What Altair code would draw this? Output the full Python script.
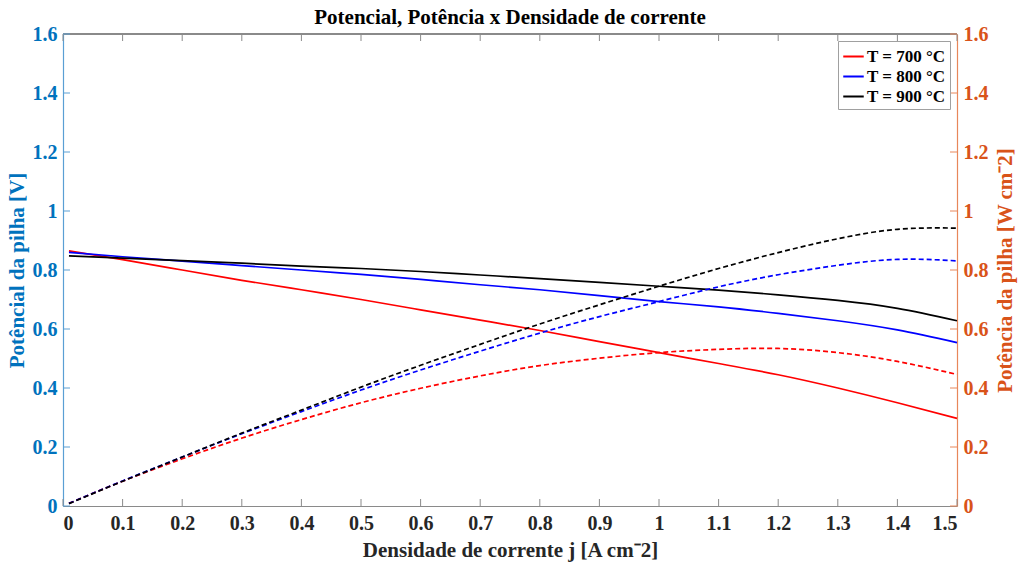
import altair as alt
import pandas as pd

# ---- data ----
j = [0.01, 0.1, 0.2, 0.3, 0.4, 0.5, 0.6, 0.7, 0.8, 0.9, 1.0, 1.1, 1.2, 1.3, 1.4, 1.5]

V700 = [0.865, 0.835, 0.800, 0.765, 0.733, 0.700, 0.665, 0.630, 0.595, 0.557, 0.520, 0.483, 0.445, 0.400, 0.350, 0.297]
V800 = [0.860, 0.845, 0.830, 0.815, 0.800, 0.785, 0.768, 0.750, 0.733, 0.713, 0.693, 0.675, 0.653, 0.628, 0.597, 0.554]
V900 = [0.848, 0.840, 0.832, 0.823, 0.813, 0.805, 0.795, 0.783, 0.771, 0.758, 0.745, 0.732, 0.716, 0.697, 0.670, 0.628]

P700 = [0.009, 0.084, 0.160, 0.230, 0.293, 0.350, 0.399, 0.441, 0.476, 0.501, 0.520, 0.531, 0.534, 0.520, 0.490, 0.446]
P800 = [0.009, 0.085, 0.166, 0.245, 0.320, 0.393, 0.461, 0.525, 0.586, 0.642, 0.693, 0.743, 0.784, 0.816, 0.836, 0.831]
P900 = [0.008, 0.084, 0.166, 0.247, 0.325, 0.403, 0.477, 0.548, 0.617, 0.682, 0.745, 0.805, 0.859, 0.906, 0.938, 0.942]

series = ["T = 700 °C", "T = 800 °C", "T = 900 °C"]
series_colors = ["#ff0000", "#0000ff", "#000000"]

x_ticks = [0, 0.1, 0.2, 0.3, 0.4, 0.5, 0.6, 0.7, 0.8, 0.9, 1, 1.1, 1.2, 1.3, 1.4, 1.5]
y_ticks = [0, 0.2, 0.4, 0.6, 0.8, 1, 1.2, 1.4, 1.6]

title_text = "Potencial, Potência x Densidade de corrente"
x_title = "Densidade de corrente j [A cm⁻2]"
yl_title = "Potêncial da pilha [V]"
yr_title = "Potência da pilha [W cm⁻2]"

# ---- tables ----
rows_v, rows_p = [], []
for name, vs, ps in zip(series, [V700, V800, V900], [P700, P800, P900]):
    for xi, v, p in zip(j, vs, ps):
        rows_v.append({"j": xi, "val": v, "T": name})
        rows_p.append({"j": xi, "val": p, "T": name})
df_v = pd.DataFrame(rows_v)
df_p = pd.DataFrame(rows_p)
df_xt = pd.DataFrame({"j": x_ticks})
df_yt = pd.DataFrame({"val": y_ticks})

W, H = 894, 472
FONT = "Liberation Serif"
BLUE, BLUE_L = "#0072BD", "#5a9fd4"
ORANGE, ORANGE_L = "#D95319", "#e8875a"
GRAY = "#8a8a8a"
LBL = 20
TTL = 21

x_axis = alt.Axis(values=x_ticks, format="~g", title=x_title, grid=False,
                  tickSize=0, domainColor=GRAY, domainWidth=1.2,
                  labelFont=FONT, labelFontSize=LBL, labelFontWeight="bold",
                  labelColor="#262626", labelPadding=7,
                  titleFont=FONT, titleFontSize=TTL, titleFontWeight="bold",
                  titleColor="#262626", titlePadding=6)
x_enc = alt.X("j:Q", scale=alt.Scale(domain=[0, 1.5], nice=False, zero=False), axis=x_axis)

yl_axis = alt.Axis(values=y_ticks, format="~g", title=yl_title, grid=False,
                   tickSize=0, domainColor=BLUE_L, domainWidth=1.2,
                   labelFont=FONT, labelFontSize=LBL, labelFontWeight="bold",
                   labelColor=BLUE, labelPadding=6,
                   titleFont=FONT, titleFontSize=TTL, titleFontWeight="bold",
                   titleColor=BLUE, titlePadding=5)
yr_axis = alt.Axis(values=y_ticks, format="~g", title=yr_title, grid=False, orient="right",
                   tickSize=0, domainColor=ORANGE_L, domainWidth=1.2,
                   labelFont=FONT, labelFontSize=LBL, labelFontWeight="bold",
                   labelColor=ORANGE, labelPadding=6,
                   titleFont=FONT, titleFontSize=TTL, titleFontWeight="bold",
                   titleColor=ORANGE, titlePadding=6, titleAngle=270,
                   titleBaseline="top")
yl_enc = alt.Y("val:Q", scale=alt.Scale(domain=[0, 1.6], nice=False), axis=yl_axis)
yr_enc = alt.Y("val:Q", scale=alt.Scale(domain=[0, 1.6], nice=False), axis=yr_axis)

legend = alt.Legend(title=None, orient="top-right", offset=7, padding=4,
                    strokeColor="#a0a0a0", fillColor="white",
                    symbolType="stroke", symbolSize=420, symbolStrokeWidth=2,
                    symbolDash=[20, 0], labelFont=FONT, labelFontSize=17,
                    labelFontWeight="bold", labelColor="black", labelOffset=2,
                    rowPadding=0)
c_enc = alt.Color("T:N", scale=alt.Scale(domain=series, range=series_colors), legend=legend)

pot = alt.Chart(df_v).mark_line(strokeWidth=1.7, interpolate="natural").encode(
    x=x_enc, y=yl_enc, color=c_enc)

left_ticks = alt.Chart(df_yt).mark_rule(color=BLUE_L, strokeWidth=1).encode(
    y=yl_enc, x=alt.value(0), x2=alt.value(7))
bottom_ticks = alt.Chart(df_xt).mark_rule(color=GRAY, strokeWidth=1).encode(
    x=x_enc, y=alt.value(H), y2=alt.value(H - 7))
top_ticks = alt.Chart(df_xt).mark_rule(color=GRAY, strokeWidth=1).encode(
    x=x_enc, y=alt.value(0), y2=alt.value(7))
top_border = alt.Chart(df_xt).mark_rule(color=GRAY, strokeWidth=1.2).encode(
    x=alt.value(0), x2=alt.value(W), y=alt.value(0))

powr = alt.Chart(df_p).mark_line(strokeWidth=1.7, interpolate="natural",
                                 strokeDash=[5, 3]).encode(
    x=x_enc, y=yr_enc, color=c_enc)
right_ticks = alt.Chart(df_yt).mark_rule(color=ORANGE_L, strokeWidth=1).encode(
    y=yr_enc, x=alt.value(W), x2=alt.value(W - 7))

left_group = alt.layer(top_border, bottom_ticks, top_ticks, left_ticks, pot)
right_group = alt.layer(right_ticks, powr)

chart = alt.layer(left_group, right_group).resolve_scale(y="independent").properties(
    width=W, height=H,
    title=alt.TitleParams(title_text, font=FONT, fontSize=TTL, fontWeight="bold",
                          color="black", anchor="middle", offset=-4),
    autosize=alt.AutoSizeParams(type="none"),
    padding={"left": 63, "top": 34, "right": 65, "bottom": 61},
).configure_view(stroke=None).configure(background="white")

chart.save("out.html", embed_options={"renderer": "svg", "actions": False})
